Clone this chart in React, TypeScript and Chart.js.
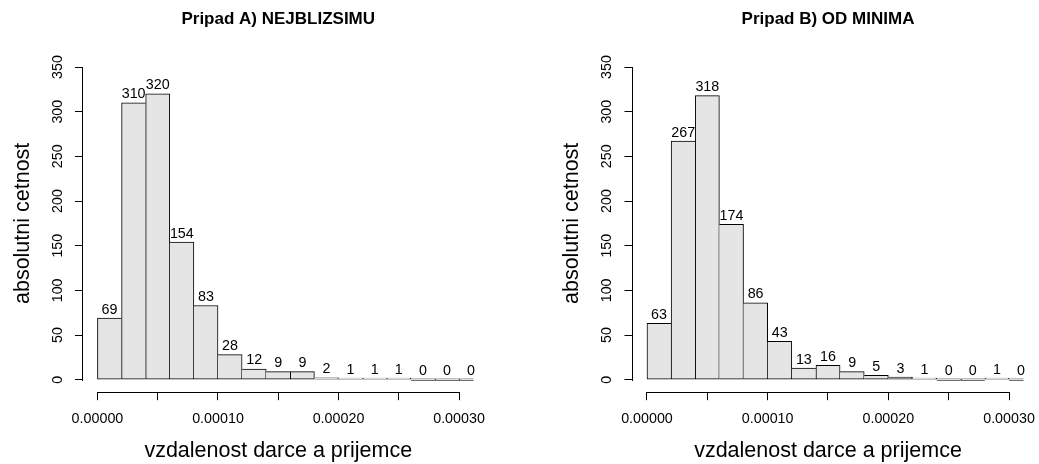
import React, { useEffect, useRef } from 'react';
import { Chart, registerables } from 'chart.js';

Chart.register(...registerables);

// Histogram breaks (left edge of each bin) and bin width
const binStarts = [
  0, 0.00002, 0.00004, 0.00006, 0.00008, 0.0001, 0.00012, 0.00014,
  0.00016, 0.00018, 0.0002, 0.00022, 0.00024, 0.00026, 0.00028, 0.0003,
];
const binWidth = 0.00002;

// Absolute frequencies per bin
const countsA = [69, 310, 320, 154, 83, 28, 12, 9, 9, 2, 1, 1, 1, 0, 0, 0];
const countsB = [63, 267, 318, 174, 86, 43, 13, 16, 9, 5, 3, 1, 0, 0, 1, 0];

const titleA = 'Pripad A) NEJBLIZSIMU';
const titleB = 'Pripad B) OD MINIMA';
const xTitle = 'vzdalenost darce a prijemce';
const yTitle = 'absolutni cetnost';

// Axis ticks and their labels
const xTicks = [0, 0.00005, 0.0001, 0.00015, 0.0002, 0.00025, 0.0003];
const xTickLabels = ['0.00000', '', '0.00010', '', '0.00020', '', '0.00030'];
const yTicks = [0, 50, 100, 150, 200, 250, 300, 350];

// Axis limits, widened by 4% on each side like base graphics
const xLim = [0, 0.0003];
const yLim = [0, 350];
const pad = (lim: number[]) => {
  const d = (lim[1] - lim[0]) * 0.04;
  return [lim[0] - d, lim[1] + d];
};

const FONT = '"Liberation Sans", Arial, Helvetica, sans-serif';
const BAR_FILL = '#E5E5E5';
const BAR_EDGE = '#000000';
const AXIS = '#000000';
const BASE_SIZE = 14.3;

Chart.defaults.font.family = FONT;
Chart.defaults.color = '#000';

// Each shared edge between neighbouring bins is stroked once, by the taller bin
const edgeWidths = (counts: number[]) => (ctx: any) => {
  const i = ctx.dataIndex;
  const h = counts[i];
  const prev = i > 0 ? counts[i - 1] : -1;
  const next = i < counts.length - 1 ? counts[i + 1] : -1;
  return { top: 1, bottom: 1, left: h >= prev ? 1 : 0, right: h > next ? 1 : 0 };
};

// Axis lines spanning only the first to the last tick
const axisLines = {
  id: 'axisLines',
  afterDraw(chart: any) {
    const { ctx } = chart;
    const x = chart.scales.x;
    const y = chart.scales.y;
    ctx.save();
    ctx.strokeStyle = AXIS;
    ctx.lineWidth = 1;
    const yb = Math.round(x.top) + 0.5;
    const x0 = Math.round(x.getPixelForValue(xTicks[0]));
    const x1 = Math.round(x.getPixelForValue(xTicks[xTicks.length - 1])) + 1;
    ctx.beginPath();
    ctx.moveTo(x0, yb);
    ctx.lineTo(x1, yb);
    ctx.stroke();
    const xl = Math.round(y.right) - 0.5;
    const y0 = Math.round(y.getPixelForValue(yTicks[0])) + 1;
    const y1 = Math.round(y.getPixelForValue(yTicks[yTicks.length - 1]));
    ctx.beginPath();
    ctx.moveTo(xl, y0);
    ctx.lineTo(xl, y1);
    ctx.stroke();
    ctx.restore();
  },
};

// Count written above every bin
const barLabels = {
  id: 'barLabels',
  afterDatasetsDraw(chart: any) {
    const { ctx } = chart;
    const y = chart.scales.y;
    const meta = chart.getDatasetMeta(0);
    const data = chart.data.datasets[0].data as { x: number; y: number }[];
    ctx.save();
    ctx.font = `${BASE_SIZE}px ${FONT}`;
    ctx.fillStyle = '#000';
    ctx.textAlign = 'center';
    ctx.textBaseline = 'alphabetic';
    meta.data.forEach((el: any, i: number) => {
      const v = data[i].y;
      ctx.fillText(String(v), el.x, y.getPixelForValue(v) - 4.5);
    });
    ctx.restore();
  },
};

type PanelProps = {
  counts: number[];
  title: string;
  left: number;
  width: number;
  padLeft: number;
  padRight: number;
};

function Histogram({ counts, title, left, width, padLeft, padRight }: PanelProps) {
  const ref = useRef<HTMLCanvasElement>(null);

  useEffect(() => {
    const [xMin, xMax] = pad(xLim);
    const [yMin, yMax] = pad(yLim);
    const chart = new Chart(ref.current as HTMLCanvasElement, {
      type: 'bar',
      data: {
        datasets: [
          {
            data: binStarts.map((s, i) => ({ x: s + binWidth / 2, y: counts[i] })),
            backgroundColor: BAR_FILL,
            borderColor: BAR_EDGE,
            borderWidth: edgeWidths(counts) as any,
            borderSkipped: false,
            barPercentage: 1,
            categoryPercentage: 1,
            minBarLength: 1.5,
            clip: 0,
          } as any,
        ],
      },
      options: {
        responsive: false,
        animation: false,
        devicePixelRatio: 1,
        events: [],
        layout: { padding: { left: padLeft, right: padRight, top: 0, bottom: 0 } },
        plugins: {
          legend: { display: false },
          tooltip: { enabled: false },
          title: {
            display: true,
            text: title,
            color: '#000',
            fullSize: false,
            font: { size: 17, weight: 'bold', family: FONT },
            padding: { top: 9.1, bottom: 25 },
          },
        },
        scales: {
          x: {
            type: 'linear',
            min: xMin,
            max: xMax,
            offset: false,
            grid: {
              offset: false,
              drawOnChartArea: false,
              drawTicks: true,
              tickLength: 8,
              color: AXIS,
              lineWidth: 1,
            },
            border: { display: false },
            afterBuildTicks: (s: any) => {
              s.ticks = xTicks.map((v) => ({ value: v }));
            },
            ticks: {
              autoSkip: false,
              maxRotation: 0,
              minRotation: 0,
              padding: 10.5,
              color: '#000',
              font: { size: BASE_SIZE },
              callback: (_v: any, i: number) => xTickLabels[i],
            },
            title: {
              display: true,
              text: xTitle,
              color: '#000',
              font: { size: 21.5 },
              padding: { top: 0, bottom: 0.5 },
            },
            afterFit: (s: any) => {
              s.height = 71.8;
              s.paddingLeft = 0;
              s.paddingRight = 0;
            },
          },
          y: {
            type: 'linear',
            min: yMin,
            max: yMax,
            grid: {
              drawOnChartArea: false,
              drawTicks: true,
              tickLength: 8,
              color: AXIS,
              lineWidth: 1,
            },
            border: { display: false },
            afterBuildTicks: (s: any) => {
              s.ticks = yTicks.map((v) => ({ value: v }));
            },
            ticks: {
              autoSkip: false,
              minRotation: 90,
              maxRotation: 90,
              crossAlign: 'center',
              padding: 5.5,
              color: '#000',
              font: { size: BASE_SIZE },
              callback: (v: any) => String(v),
            },
            title: {
              display: true,
              text: yTitle,
              color: '#000',
              font: { size: 21.5 },
              padding: { top: 10.1, bottom: 0 },
            },
            afterFit: (s: any) => {
              s.width = 83;
              s.paddingTop = 0;
              s.paddingBottom = 0;
            },
          },
        },
      } as any,
      plugins: [axisLines, barLabels],
    });
    return () => chart.destroy();
  }, [counts, title, padLeft, padRight]);

  return (
    <canvas
      ref={ref}
      width={width}
      height={464}
      style={{ position: 'absolute', left, top: 0, width, height: 464 }}
    />
  );
}

export default function App() {
  return (
    <div
      style={{
        position: 'absolute',
        left: 0,
        top: 0,
        width: 1039,
        height: 464,
        background: '#ffffff',
        overflow: 'hidden',
      }}
    >
      <Histogram counts={countsA} title={titleA} left={0} width={519} padLeft={0} padRight={45.5} />
      <Histogram counts={countsB} title={titleB} left={519} width={520} padLeft={30.5} padRight={15.5} />
    </div>
  );
}
